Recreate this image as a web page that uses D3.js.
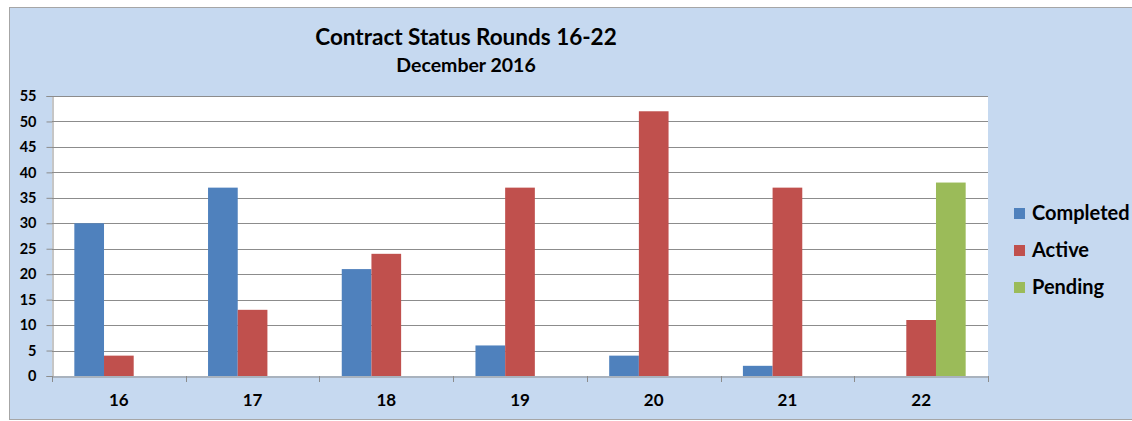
<!DOCTYPE html>
<html>
<head>
<meta charset="utf-8">
<script src="https://cdn.jsdelivr.net/npm/d3@7"></script>
<style>
  body { margin: 0; background: #fff; }
  svg { display: block; font-family: Lato, "Open Sans", sans-serif; }
</style>
</head>
<body>
<div id="chart"></div>
<script>
// data
const rounds = ["16", "17", "18", "19", "20", "21", "22"];
const seriesNames = ["Completed", "Active", "Pending"];
const completed = [30, 37, 21, 6, 4, 2, 0];
const active = [4, 13, 24, 37, 52, 37, 11];
const pending = [0, 0, 0, 0, 0, 0, 38];
const yTicks = [0, 5, 10, 15, 20, 25, 30, 35, 40, 45, 50, 55];
const colors = ["#4f81bd", "#c0504d", "#9bbb59"];

const width = 1132, height = 421;
const plot = { left: 52, right: 988, top: 96, bottom: 376 };

const svg = d3.select("#chart").append("svg")
  .attr("width", width)
  .attr("height", height);

// chart panel
svg.append("rect")
  .attr("x", 9.5).attr("y", 7.5)
  .attr("width", width - 9).attr("height", height - 9)
  .attr("fill", "#c6d9f0")
  .attr("stroke", "#a6a6a6");

// plot area
svg.append("rect")
  .attr("x", plot.left).attr("y", plot.top)
  .attr("width", plot.right - plot.left).attr("height", plot.bottom - plot.top)
  .attr("fill", "#fff");

const x0 = d3.scaleBand().domain(rounds).range([plot.left, plot.right]).padding(0);
const x1 = d3.scaleBand().domain(seriesNames)
  .range([x0.bandwidth() * 0.167, x0.bandwidth() * 0.833]).padding(0);
const y = d3.scaleLinear().domain([0, 55]).range([plot.bottom, plot.top]);

// gridlines
svg.append("g").selectAll("line")
  .data(yTicks.filter(d => d > 0))
  .enter().append("line")
  .attr("x1", plot.left).attr("x2", plot.right)
  .attr("y1", d => Math.round(y(d)) + 0.5).attr("y2", d => Math.round(y(d)) + 0.5)
  .attr("stroke", "#8c8c8c");

// bars
const values = [completed, active, pending];
rounds.forEach((r, i) => {
  seriesNames.forEach((s, j) => {
    const v = values[j][i];
    if (!v) return;
    svg.append("rect")
      .attr("x", x0(r) + x1(s))
      .attr("y", y(v))
      .attr("width", x1.bandwidth())
      .attr("height", y(0) - y(v))
      .attr("fill", colors[j]);
  });
});

// y axis
const yAxis = svg.append("g")
  .attr("transform", `translate(${plot.left + 0.5},0)`)
  .call(d3.axisLeft(y).tickValues(yTicks).tickSize(6).tickPadding(10).tickFormat(d3.format("d")));
yAxis.select(".domain").attr("stroke", "#8c8c8c");
yAxis.selectAll(".tick line").attr("stroke", "#8c8c8c");
yAxis.selectAll("text")
  .attr("fill", "#000")
  .style("font-size", "14.5px")
  .style("font-weight", "bold")
  .style("font-family", "Lato, sans-serif");

// x axis
const xAxis = svg.append("g")
  .attr("transform", `translate(0,${plot.bottom + 0.5})`)
  .call(d3.axisBottom(x0).tickSize(0).tickPadding(17));
xAxis.select(".domain").attr("stroke", "#8c8c8c");
xAxis.selectAll("text")
  .attr("fill", "#000")
  .style("font-size", "17px")
  .style("font-weight", "bold")
  .style("font-family", "Lato, sans-serif");

// category boundary ticks
svg.append("g").selectAll("line")
  .data(rounds.map(r => x0(r)).concat([plot.right]))
  .enter().append("line")
  .attr("x1", d => Math.round(d) + 0.5).attr("x2", d => Math.round(d) + 0.5)
  .attr("y1", plot.bottom).attr("y2", plot.bottom + 6)
  .attr("stroke", "#8c8c8c");

// titles
svg.append("text")
  .attr("x", 466).attr("y", 45)
  .attr("text-anchor", "middle")
  .style("font-size", "22.5px").style("font-weight", "bold")
  .text("Contract Status Rounds 16-22");
svg.append("text")
  .attr("x", 466).attr("y", 72)
  .attr("text-anchor", "middle")
  .style("font-size", "19.5px").style("font-weight", "bold")
  .text("December 2016");

// legend
const legend = svg.append("g").attr("transform", "translate(1014,208)");
seriesNames.forEach((s, i) => {
  const g = legend.append("g").attr("transform", `translate(0,${i * 37})`);
  g.append("rect").attr("width", 11).attr("height", 11).attr("fill", colors[i]);
  g.append("text")
    .attr("x", 18).attr("y", 12)
    .style("font-size", "20px").style("font-weight", "bold")
    .text(s);
});
</script>
</body>
</html>
